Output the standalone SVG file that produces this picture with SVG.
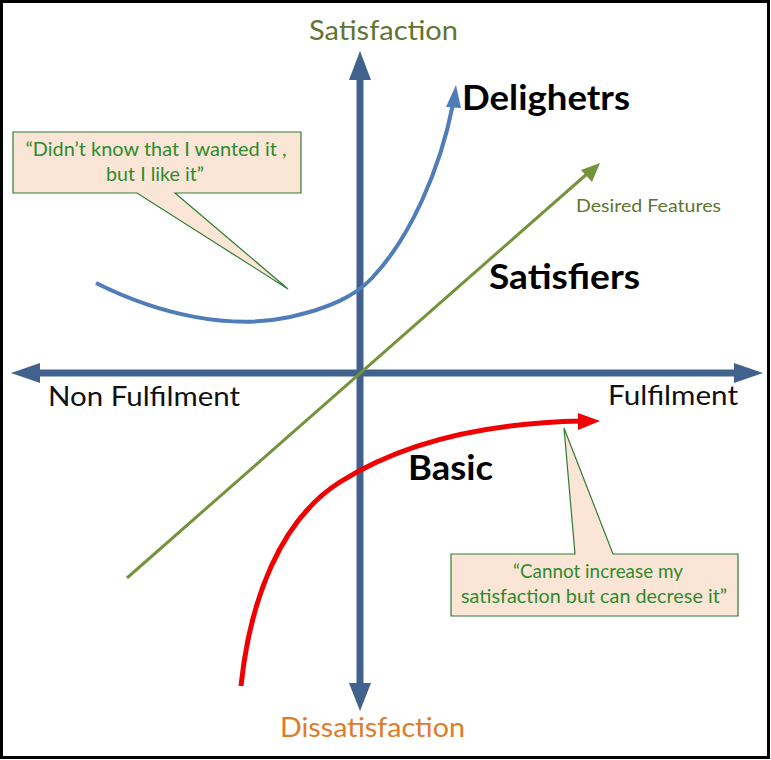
<svg xmlns="http://www.w3.org/2000/svg" width="771" height="760" viewBox="0 0 771 760">
<style>
.axis{stroke:#41628C;stroke-width:7;fill:none}
.axhead{fill:#41628C}
text{font-family:Lato,"Open Sans","Liberation Sans",sans-serif}
.lbl{font-size:27px}
.big{font-size:34px;font-weight:bold;fill:#000}
.call{fill:#FBE5D6;stroke:#2E7D32;stroke-width:1.2}
.ctext{font-size:19px;fill:#2E8B2E;text-anchor:middle}
</style>
<rect x="1.5" y="1.5" width="767" height="756" fill="#fff" stroke="#000" stroke-width="3"/>
<g id="connectors">
  <path class="axis" d="M360,75 V688"/>
  <polygon class="axhead" points="360,51 371,80 349,80"/>
  <polygon class="axhead" points="360,711 371,683 349,683"/>
  <path class="axis" d="M36,373 H738"/>
  <polygon class="axhead" points="11,373 40,363 40,383"/>
  <polygon class="axhead" points="763,373 734,363 734,383"/>
  <path d="M127,578 L588,173" stroke="#76923C" stroke-width="3" fill="none"/>
  <polygon points="600,163 581,170 592,182" fill="#76923C"/>
  <path d="M96,283 C160,315 230,330 290,317 C330,308 355,296 372,278 C410,238 440,170 453,104" stroke="#4F7DB8" stroke-width="4" fill="none"/>
  <polygon points="456,85 446,107 461,108" fill="#4F7DB8"/>
  <path d="M241,686 C250,600 280,520 340,482 C400,444 480,423 582,421" stroke="#F00000" stroke-width="5" fill="none"/>
  <polygon points="600,421 578,413 578,430" fill="#F00000"/>
</g>
<g id="satisfaction"><text class="lbl" x="309" y="40" textLength="149" lengthAdjust="spacingAndGlyphs" fill="#5F7530">Satisfaction</text></g>
<g id="dissatisfaction"><text class="lbl" x="280" y="737" textLength="185" lengthAdjust="spacingAndGlyphs" fill="#E07B2A">Dissatisfaction</text></g>
<g id="nonfulfilment"><text class="lbl" x="48" y="406" textLength="192" lengthAdjust="spacingAndGlyphs" fill="#111">Non Fulfilment</text></g>
<g id="fulfilment"><text class="lbl" x="608" y="405" textLength="130" lengthAdjust="spacingAndGlyphs" fill="#111">Fulfilment</text></g>
<g id="delighters"><text class="big" x="462" y="110" textLength="168" lengthAdjust="spacingAndGlyphs">Delighetrs</text></g>
<g id="satisfiers"><text class="big" x="489" y="289" textLength="151" lengthAdjust="spacingAndGlyphs">Satisfiers</text></g>
<g id="basic"><text class="big" x="408" y="480" textLength="85" lengthAdjust="spacingAndGlyphs">Basic</text></g>
<g id="desired"><text x="576" y="212" font-size="18" textLength="145" lengthAdjust="spacingAndGlyphs" fill="#5F7530">Desired Features</text></g>
<g id="callout1">
  <path class="call" d="M13,132 H301 V193 H175 L288,289 L137,193 H13 Z"/>
  <text class="ctext" x="156" y="156" textLength="261" lengthAdjust="spacingAndGlyphs">“Didn’t know that I wanted it ,</text>
  <text class="ctext" x="155" y="181" textLength="98" lengthAdjust="spacingAndGlyphs">but I like it”</text>
</g>
<g id="callout2">
  <path class="call" d="M451,554 H575 L564,428 L613,554 H738 V616 H451 Z"/>
  <text class="ctext" x="598" y="578" textLength="170" lengthAdjust="spacingAndGlyphs">“Cannot increase my</text>
  <text class="ctext" x="594" y="603" textLength="266" lengthAdjust="spacingAndGlyphs">satisfaction but can decrese it”</text>
</g>
</svg>
